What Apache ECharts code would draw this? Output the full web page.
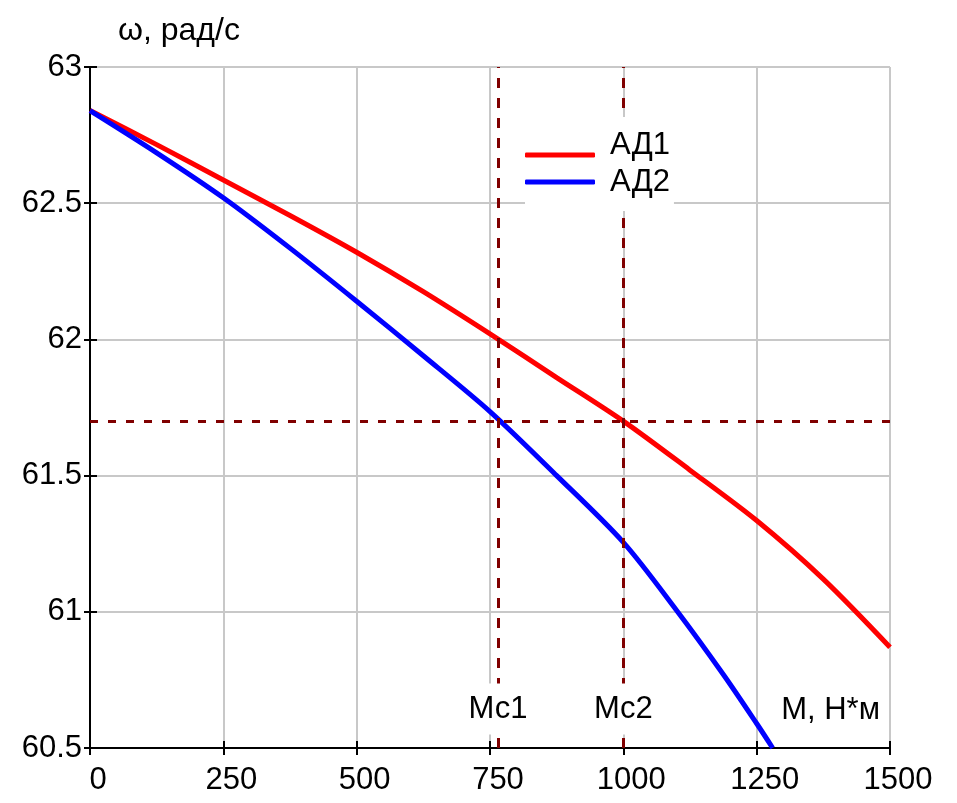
<!DOCTYPE html>
<html>
<head>
<meta charset="utf-8">
<script src="https://cdn.jsdelivr.net/npm/echarts@6/dist/echarts.min.js"></script>
<style>
html,body{margin:0;padding:0;background:#ffffff;}
#chart{width:957px;height:803px;}
</style>
</head>
<body>
<div id="chart"></div>
<script>
// ---- data ----
const seriesNames = ['АД1', 'АД2'];
const torqueRed = [0, 125, 250, 375, 500, 625, 750, 875, 1000, 1125, 1250, 1375, 1500];
const omegaRed  = [62.84, 62.715, 62.585, 62.455, 62.32, 62.175, 62.02, 61.86, 61.70, 61.52, 61.335, 61.12, 60.87];
const torqueBlue = [0, 125, 250, 375, 500, 625, 750, 875, 1000, 1100, 1187.5, 1250, 1280];
const omegaBlue  = [62.84, 62.685, 62.52, 62.335, 62.14, 61.94, 61.735, 61.50, 61.255, 61.005, 60.77, 60.59, 60.5];
const refTorques = [765, 1000];          // Мс1, Мс2
const refTorqueNames = ['Мс1', 'Мс2'];
const refOmega = 61.7;
const xRange = [0, 1500], xStep = 250;
const yRange = [60.5, 63], yStep = 0.5;
const xAxisName = 'М, Н*м';
const yAxisName = 'ω, рад/с';

// ---- build chart ----
const FONT = "'Liberation Sans', Arial, sans-serif";
const FS = 31;
const zip = (a, b) => a.map((v, i) => [v, b[i]]);
const refLabelOmega = 60.643;

const chart = echarts.init(document.getElementById('chart'), null, {renderer: 'canvas'});
const gridBox = {left: 90, right: 67, top: 67, bottom: 55, containLabel: false, outerBoundsMode: 'none'};

const legendBase = {
  orient: 'vertical',
  left: 525,
  backgroundColor: '#ffffff',
  itemWidth: 70,
  itemHeight: 5,
  itemGap: 0,
  icon: 'roundRect',
  selectedMode: false
};

const option = {
  backgroundColor: '#ffffff',
  animation: false,
  textStyle: {fontFamily: FONT},
  grid: [Object.assign({}, gridBox), Object.assign({}, gridBox)],
  legend: [
    Object.assign({}, legendBase, {
      data: [seriesNames[0]],
      top: 117, padding: [13, 0, 0, 0], z: 6,
      formatter: name => '{a|' + name + '}\n{b| }',
      textStyle: {
        fontSize: FS, color: '#000', fontFamily: FONT, padding: [0, 4, 0, 10],
        rich: {
          a: {fontSize: FS, lineHeight: 27, color: '#000', fontFamily: FONT},
          b: {fontSize: 10, lineHeight: 19}
        }
      }
    }),
    Object.assign({}, legendBase, {
      data: [seriesNames[1]],
      top: 166.5, padding: [0, 0, 13.5, 0], z: 7,
      textStyle: {fontSize: FS, lineHeight: 27, color: '#000', fontFamily: FONT, padding: [0, 4, 0, 10]}
    })
  ],
  xAxis: [{
    type: 'value', gridIndex: 0,
    min: xRange[0], max: xRange[1], interval: xStep,
    axisLine: {show: true, onZero: false, lineStyle: {color: '#000', width: 2}},
    axisTick: {show: true, length: 7, lineStyle: {color: '#000', width: 2}},
    axisLabel: {show: true, fontSize: FS, color: '#000', fontFamily: FONT, margin: 17,
                padding: [0, 0, 0, 16], showMinLabel: true, showMaxLabel: true, hideOverlap: false,
                formatter: v => String(v)},
    splitLine: {show: true, lineStyle: {color: '#c8c8c8', width: 2}},
    name: xAxisName, nameLocation: 'end', nameGap: -10, nameMoveOverlap: false,
    nameTextStyle: {fontSize: FS, color: '#000', fontFamily: FONT, align: 'right',
                    verticalAlign: 'bottom', padding: [0, 0, 22, 0]}
  }, {
    type: 'value', gridIndex: 1,
    min: xRange[0], max: xRange[1], interval: xStep,
    axisLine: {show: false},
    axisTick: {show: true, inside: true, length: 7, lineStyle: {color: '#000', width: 2}},
    axisLabel: {show: false},
    splitLine: {show: false}
  }],
  yAxis: [{
    type: 'value', gridIndex: 0,
    min: yRange[0], max: yRange[1], interval: yStep,
    axisLine: {show: true, onZero: false, lineStyle: {color: '#000', width: 2}},
    axisTick: {show: true, length: 6, lineStyle: {color: '#000', width: 2}},
    axisLabel: {show: true, fontSize: FS, color: '#000', fontFamily: FONT, margin: 8,
                padding: [8, 0, 0, 0], showMinLabel: true, showMaxLabel: true, hideOverlap: false,
                formatter: v => String(v)},
    splitLine: {show: true, lineStyle: {color: '#c8c8c8', width: 2}},
    name: yAxisName, nameLocation: 'end', nameGap: 36, nameMoveOverlap: false,
    nameTextStyle: {fontSize: 32, color: '#000', fontFamily: FONT, align: 'left',
                    verticalAlign: 'middle', padding: [0, 0, 0, 28]}
  }, {
    type: 'value', gridIndex: 1,
    min: yRange[0], max: yRange[1], interval: yStep,
    axisLine: {show: false},
    axisTick: {show: true, inside: true, length: 7, lineStyle: {color: '#000', width: 2}},
    axisLabel: {show: false},
    splitLine: {show: false}
  }],
  series: [
    {
      name: 'refs', type: 'line', xAxisIndex: 0, yAxisIndex: 0, data: [], z: 2,
      markLine: {
        silent: true, symbol: 'none', animation: false,
        label: {show: false},
        lineStyle: {color: '#800000', width: 3},
        data: [
          ...refTorques.map(v => ({xAxis: v, lineStyle: {type: [10, 10], color: '#800000', width: 3}})),
          {yAxis: refOmega, lineStyle: {type: [8, 10], color: '#800000', width: 3}}
        ]
      }
    },
    {
      name: seriesNames[0], type: 'line', xAxisIndex: 0, yAxisIndex: 0,
      data: zip(torqueRed, omegaRed), smooth: 0.3,
      showSymbol: false, symbol: 'none', z: 3,
      lineStyle: {color: '#ff0000', width: 5}, itemStyle: {color: '#ff0000'}
    },
    {
      name: seriesNames[1], type: 'line', xAxisIndex: 0, yAxisIndex: 0,
      data: zip(torqueBlue, omegaBlue), smooth: 0.3,
      showSymbol: false, symbol: 'none', z: 3,
      lineStyle: {color: '#0000ff', width: 5}, itemStyle: {color: '#0000ff'}
    },
    {
      name: 'refLabels', type: 'scatter', xAxisIndex: 0, yAxisIndex: 0, z: 5,
      silent: true, symbolSize: 1, itemStyle: {color: 'rgba(0,0,0,0)'},
      data: refTorques.map((v, i) => ({value: [v, refLabelOmega], name: refTorqueNames[i]})),
      label: {
        show: true, position: 'inside', formatter: p => p.name,
        fontSize: FS, color: '#000', fontFamily: FONT, offset: [3, 0],
        backgroundColor: '#ffffff', padding: [10, 5, 10, 5], opacity: 1
      },
      labelLayout: {hideOverlap: false}
    }
  ]
};
chart.setOption(option);
</script>
</body>
</html>
